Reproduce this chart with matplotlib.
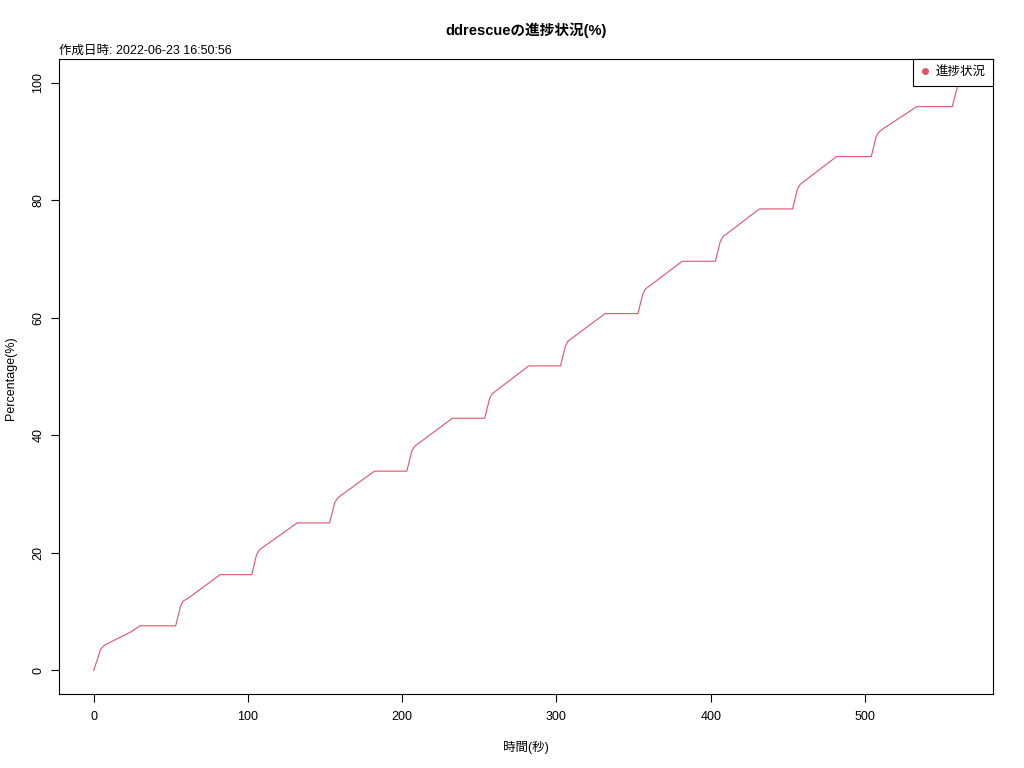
import matplotlib
matplotlib.use("Agg")
import matplotlib.pyplot as plt
from matplotlib.lines import Line2D

plt.rcParams['font.family'] = ['Liberation Sans', 'Noto Sans CJK JP', 'DejaVu Sans']

# Data (seconds, percent)
time_sec = [0, 3, 4.5, 7, 24.5, 30, 53.2, 56.3, 58, 61.3, 82, 102.5, 105.6, 107.4, 110.5,
            132, 153, 156.2, 158, 161, 182, 203, 206.2, 208, 211, 232.5, 253.5, 256.7,
            258.5, 261.5, 282, 302.6, 305.8, 307.5, 310.5, 331.5, 352.8, 356, 357.7,
            360.8, 381.5, 403, 406.2, 408, 411, 431.5, 453, 456.2, 458, 461, 481.5, 504,
            507.2, 509, 512, 533.5, 556.5, 559.7, 560.5]
percent = [0, 2.3, 3.6, 4.3, 6.6, 7.6, 7.6, 10.9, 11.8, 12.3, 16.3, 16.3, 19.7, 20.5, 21.1,
           25.1, 25.1, 28.5, 29.3, 29.9, 33.9, 33.9, 37.3, 38.1, 38.7, 42.9, 42.9, 46.3,
           47.1, 47.7, 51.8, 51.8, 55.2, 56.0, 56.6, 60.7, 60.7, 64.1, 64.9, 65.5, 69.6,
           69.6, 73.0, 73.8, 74.4, 78.5, 78.5, 81.9, 82.7, 83.3, 87.4, 87.4, 90.8, 91.6,
           92.2, 95.9, 95.9, 99.1, 100]
x_ticks = [0, 100, 200, 300, 400, 500]
y_ticks = [0, 20, 40, 60, 80, 100]

title = "ddrescueの進捗状況(%)"
subtitle = "作成日時: 2022-06-23 16:50:56"
series_name = "進捗状況"
color = "#DF536B"

fig = plt.figure(figsize=(10.24, 7.68), dpi=100)
ax = fig.add_axes([59/1024, 1 - 694/768, (993-59)/1024, (694-59)/768])

ax.plot(time_sec, percent, color=color, lw=0.8)

xmax = max(time_sec)
ax.set_xlim(-0.04*xmax, xmax*1.04)
ax.set_ylim(-4, 104)
ax.set_xticks(x_ticks)
ax.set_yticks(y_ticks)
ax.set_yticklabels([str(v) for v in y_ticks], rotation=90, va='center')
ax.tick_params(direction='out', length=5.5, width=0.8, labelsize=9, colors='black')
ax.tick_params(axis='x', pad=7)
ax.tick_params(axis='y', pad=5)
for s in ax.spines.values():
    s.set_linewidth(0.8)
    s.set_color('black')

ax.set_xlabel("時間(秒)", fontsize=9, labelpad=13)
fig.text(11/1024, 1 - 378/768, "Percentage(%)", rotation=90, ha='center', va='center', fontsize=9)

fig.text(526/1024, 1 - 30/768, title, ha='center', va='center', fontsize=10.5, fontweight='bold')
fig.text(59/1024, 1 - 51/768, subtitle, ha='left', va='center', fontsize=9)

handle = Line2D([], [], marker='o', color=color, linestyle='None', markersize=4)
leg = ax.legend([handle], [series_name], loc='upper right', borderaxespad=0,
                fancybox=False, framealpha=1, edgecolor='black', fontsize=9,
                handlelength=0.7, handletextpad=0.5, borderpad=0.6)
leg.get_frame().set_linewidth(0.8)

fig.savefig("out.png", dpi=100)
